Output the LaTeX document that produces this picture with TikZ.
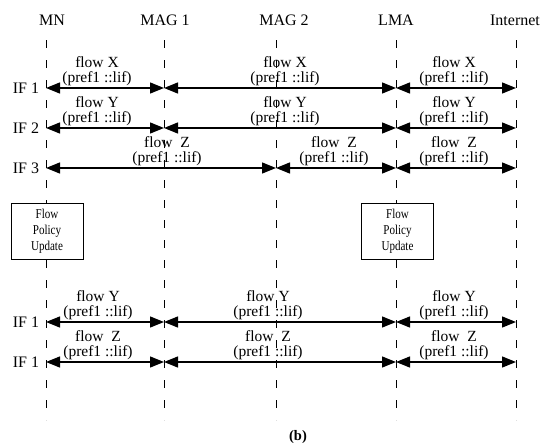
\documentclass[tikz,border=0pt]{standalone}
\usepackage{fontspec}
\usepackage{graphicx}
\setmainfont{Liberation Serif}
\usetikzlibrary{arrows.meta}
\newcommand\narrowtxt[1]{\scalebox{0.82}[1]{#1}}
\begin{document}
\begin{tikzpicture}[x=1pt,y=-1pt,
  lifeline/.style={line width=1pt, dash pattern=on 8pt off 12pt},
  flowarrow/.style={line width=1.3pt, {Triangle[length=14pt,width=11pt]}-{Triangle[length=14pt,width=11pt]}},
  head/.style={font=\fontsize{16}{17}\selectfont, inner sep=0pt},
  iflabel/.style={font=\fontsize{16}{17}\selectfont, inner sep=0pt},
  flowlabel/.style={font=\fontsize{15.5}{16}\selectfont, inner sep=0pt},
  policybox/.style={draw, line width=1pt, fill=white, minimum width=72pt, minimum height=56pt, align=center, inner sep=0pt, font=\fontsize{13.5}{16}\selectfont}]
\useasboundingbox (0,0) rectangle (541,447);
% headers
\node[head] (hMN) at (52,20) {MN};
\node[head] (hMAG1) at (165,20) {MAG 1};
\node[head] (hMAG2) at (284,20) {MAG 2};
\node[head] (hLMA) at (396,20) {LMA};
\node[head] (hInt) at (515,20) {Internet};
% lifeline ends
\coordinate (tMN) at (46,40);   \coordinate (bMN) at (46,420);
\coordinate (tMAG1) at (164,40); \coordinate (bMAG1) at (164,420);
\coordinate (tMAG2) at (276,40); \coordinate (bMAG2) at (276,420);
\coordinate (tLMA) at (396,40); \coordinate (bLMA) at (396,420);
\coordinate (tInt) at (516,40); \coordinate (bInt) at (516,420);
\foreach \n in {MN,MAG1,MAG2,LMA,Int} {\draw[lifeline] (t\n) -- (b\n);}
% policy boxes
\node[policybox] (pu1) at (47,231) {\narrowtxt{Flow}\\\narrowtxt{Policy}\\\narrowtxt{Update}};
\node[policybox] (pu2) at (397.5,231) {\narrowtxt{Flow}\\\narrowtxt{Policy}\\\narrowtxt{Update}};
% rows
\foreach \r/\y in {1/88,2/128,3/168,4/322,5/362} {
  \coordinate (mn\r) at (46,\y);
  \coordinate (ma\r) at (164,\y);
  \coordinate (mb\r) at (276,\y);
  \coordinate (lm\r) at (396,\y);
  \coordinate (in\r) at (516,\y);
}
% IF labels
\node[iflabel] (if1) at (26,88) {IF 1};
\node[iflabel] (if2) at (26,128) {IF 2};
\node[iflabel] (if3) at (26,168) {IF 3};
\node[iflabel] (if4) at (26,322) {IF 1};
\node[iflabel] (if5) at (26,362) {IF 1};
% arrows
\draw[flowarrow] (mn1) -- (ma1);
\draw[flowarrow] (ma1) -- (lm1);
\draw[flowarrow] (lm1) -- (in1);
\draw[flowarrow] (mn2) -- (ma2);
\draw[flowarrow] (ma2) -- (lm2);
\draw[flowarrow] (lm2) -- (in2);
\draw[flowarrow] (mn3) -- (mb3);
\draw[flowarrow] (mb3) -- (lm3);
\draw[flowarrow] (lm3) -- (in3);
\draw[flowarrow] (mn4) -- (ma4);
\draw[flowarrow] (ma4) -- (lm4);
\draw[flowarrow] (lm4) -- (in4);
\draw[flowarrow] (mn5) -- (ma5);
\draw[flowarrow] (ma5) -- (lm5);
\draw[flowarrow] (lm5) -- (in5);
% flow labels
\foreach \x/\y/\t [count=\i] in {97/88/X,285/88/X,454/88/X,97/128/Y,285/128/Y,454/128/Y,167/168/{\ Z},334/168/{\ Z},454/168/{\ Z},98/322/Y,268/322/Y,454/322/Y,98/362/{\ Z},268/362/{\ Z},454/362/{\ Z}} {
  \node[flowlabel] (fl\i) at (\x,\y-26) {flow \t};
  \node[flowlabel] (pl\i) at (\x,\y-9) {(pref1 ::lif)};
}
\node[font=\bfseries\fontsize{14.5}{16}\selectfont, inner sep=0pt] (cap) at (298,437) {(b)};
\end{tikzpicture}
\end{document}
